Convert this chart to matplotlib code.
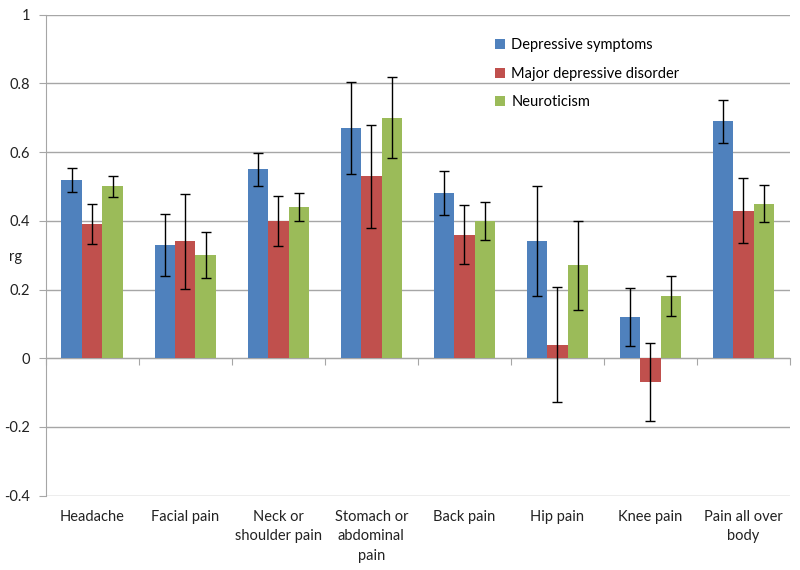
import matplotlib.pyplot as plt
import numpy as np

categories = ["Headache", "Facial pain", "Neck or\nshoulder pain", "Stomach or\nabdominal\npain",
              "Back pain", "Hip pain", "Knee pain", "Pain all over\nbody"]
series = ["Depressive symptoms", "Major depressive disorder", "Neuroticism"]

dep_sym = [0.52, 0.33, 0.55, 0.67, 0.48, 0.34, 0.12, 0.69]
dep_sym_err = [0.035, 0.09, 0.048, 0.134, 0.064, 0.16, 0.084, 0.062]
mdd = [0.39, 0.34, 0.40, 0.53, 0.36, 0.04, -0.07, 0.43]
mdd_err = [0.058, 0.138, 0.072, 0.15, 0.086, 0.168, 0.114, 0.095]
neuro = [0.50, 0.30, 0.44, 0.70, 0.40, 0.27, 0.18, 0.45]
neuro_err = [0.03, 0.067, 0.04, 0.118, 0.055, 0.13, 0.058, 0.054]

colors = ["#4F81BD", "#C0504D", "#9BBB59"]
grid_col = "#a6a6a6"

plt.rcParams['font.family'] = ['Lato', 'DejaVu Sans']

fig = plt.figure(figsize=(8, 5.7), dpi=100)
ax = fig.add_axes([0.0571, 0.1304, 0.9304, 0.8438])

x = np.arange(len(categories))
w = 0.22
for i, (vals, errs) in enumerate([(dep_sym, dep_sym_err), (mdd, mdd_err), (neuro, neuro_err)]):
    ax.bar(x + (i - 1) * w, vals, w, color=colors[i], label=series[i], zorder=2,
           yerr=errs, error_kw=dict(ecolor='black', elinewidth=1, capsize=3.5, capthick=1))

ax.set_xlim(-0.5, len(categories) - 0.5)
ax.set_ylim(-0.4, 1)
ax.set_yticks([-0.4, -0.2, 0, 0.2, 0.4, 0.6, 0.8, 1])
ax.set_yticklabels(["-0.4", "-0.2", "0", "0.2", "0.4", "0.6", "0.8", "1"])
ax.yaxis.grid(True, color=grid_col, linewidth=1)
ax.set_axisbelow(True)

for s in ['top', 'right', 'bottom']:
    ax.spines[s].set_visible(False)
ax.spines['left'].set_color(grid_col)
ax.tick_params(axis='y', length=5, color=grid_col, labelsize=10.5, labelcolor='#222222', pad=6)

ax.set_xticks(x)
ax.set_xticklabels(categories, fontsize=10.5, color='#222222', linespacing=1.5)
ax.tick_params(axis='x', length=0, pad=10)

# category axis sits at y = 0
zero_ax = ax.secondary_xaxis(0.4 / 1.4)
zero_ax.set_xticks(np.arange(len(categories) + 1) - 0.5)
zero_ax.set_xticklabels([])
zero_ax.tick_params(length=5, color=grid_col)
zero_ax.spines['bottom'].set_color(grid_col)

ax.set_ylabel("rg", rotation=0, fontsize=10.5, color='#222222', ha='center', va='center')
ax.yaxis.set_label_coords(-0.041, 0.496)

fig.legend(loc='upper left', bbox_to_anchor=(0.619, 0.933), frameon=False, fontsize=10.5,
           handlelength=0.7, handleheight=0.7, handletextpad=0.4, labelspacing=1.0,
           borderpad=0, borderaxespad=0)

fig.savefig("out.png", dpi=100)
